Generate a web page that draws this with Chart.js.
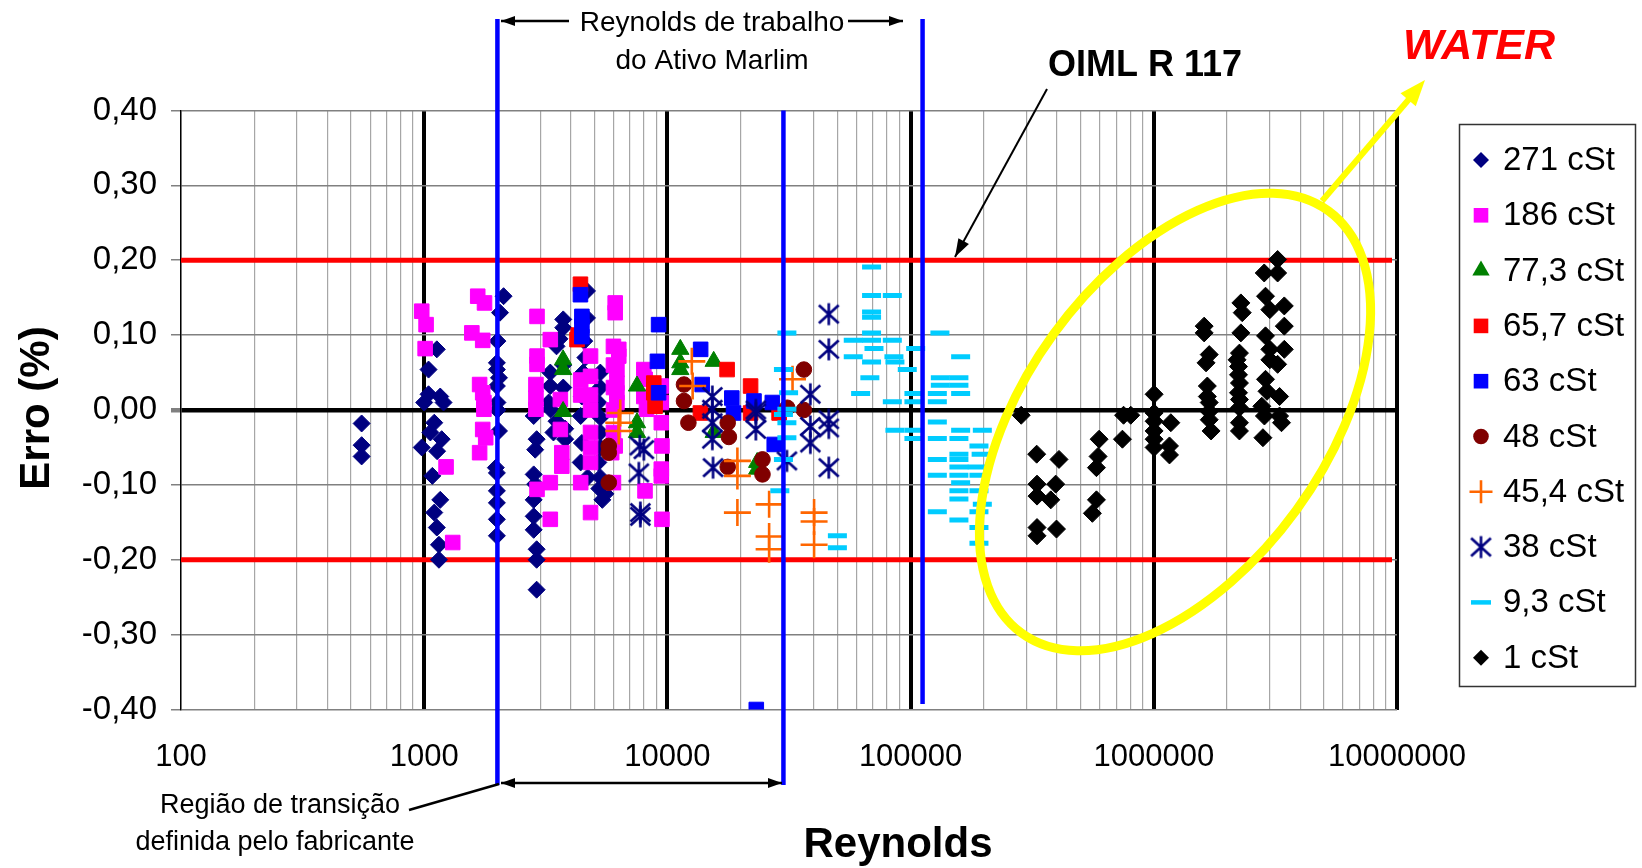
<!DOCTYPE html>
<html><head><meta charset="utf-8">
<script src="https://cdn.jsdelivr.net/npm/chart.js@4.4.1/dist/chart.umd.min.js"></script>
<style>html,body{margin:0;padding:0;background:#fff;}canvas{display:block;}</style>
</head><body>
<canvas id="c" width="1642" height="868"></canvas>
<script>
// ---------- DATA (Reynolds, Erro %) ----------
const s271 = [[553,-0.018],[553,-0.047],[553,-0.062],
 [1127,0.081],[1042,0.054],[1042,0.021],[1164,0.018],[1000,0.010],[1201,0.010],[1100,-0.017],[1060,-0.030],[1180,-0.039],[977,-0.050],[1130,-0.055],[1080,-0.088],[1164,-0.120],[1100,-0.137],[1127,-0.157],[1150,-0.180],[1150,-0.200],
 [2120,0.152],[2050,0.130],[2000,0.092],[1990,0.063],[1990,0.054],[2030,0.043],[1990,0.032],[2000,0.010],[2000,0.000],[2030,-0.028],[1970,-0.077],[1990,-0.084],[1990,-0.108],[1990,-0.124],[1990,-0.146],[1990,-0.168],
 [2820,-0.008],[2900,-0.039],[2860,-0.053],[2820,-0.086],[2860,-0.099],[2820,-0.120],[2820,-0.142],[2820,-0.160],[2900,-0.186],[2900,-0.200],[2900,-0.240],
 [3730,0.121],[3730,0.110],[3600,0.095],[3500,0.085],[3300,0.050],[3300,0.032],[3250,0.010],[3300,0.001],[3730,0.030],[3730,0.060],[3800,-0.025],[3800,-0.039],[3500,-0.015],[3400,-0.030],
 [4670,0.159],[4670,0.123],[4550,0.092],[4600,0.070],[4500,0.050],[4450,0.018],[4400,-0.008],[4450,-0.044],[4400,-0.070],[4700,-0.090],
 [5300,0.050],[5300,0.030],[5200,0.010],[5300,-0.010],[5300,-0.030],[5300,-0.050],[5200,-0.070],[5300,-0.090],[5250,-0.105],[5560,-0.112],[5400,-0.120]];
const s186 = [[977,0.132],[1018,0.114],[1009,0.082],[1230,-0.076],[1310,-0.177],[1660,0.152],[1770,0.143],[1570,0.103],[1740,0.093],[1690,0.034],[1740,0.023],[1760,0.010],[1760,0.001],[1740,-0.026],[1790,-0.037],[1690,-0.057],
 [2910,0.125],[3300,0.094],[2910,0.072],[2910,0.061],[2880,0.034],[2880,0.016],[2880,0.001],[3630,0.014],[3630,-0.026],[3680,-0.057],[3680,-0.075],[3300,-0.097],[2910,-0.106],[3300,-0.146],[4400,-0.097],[4830,-0.137],
 [4830,0.072],[4830,0.045],[4830,0.020],[4830,0.000],[4830,-0.030],[4830,-0.050],[4830,-0.070],[4400,0.040],[4400,0.020],
 [6100,0.143],[6100,0.130],[6000,0.085],[6000,0.060],[6000,0.030],[6000,0.000],[6000,-0.030],[6100,-0.048],[6000,-0.097],[5900,-0.057],
 [6310,0.081],[6310,0.072],[6200,0.054],[6200,0.036],[6200,0.023],[6200,0.010],
 [8000,0.054],[8100,0.041],[8000,0.018],[8200,0.001],[9440,0.032],[9440,0.010],[9440,-0.017],[9500,-0.048],[9440,-0.079],[9440,-0.088],[8090,-0.108],[9500,-0.146]];
const s773 = [[3725,0.067],[3725,0.054],[3725,-0.002],[7500,0.032],[7500,-0.017],[7500,-0.030],[11300,0.081],[11300,0.063],[11300,0.054],[15500,0.065],[15500,-0.030],[23400,-0.070],[23400,-0.079]];
const s657 = [[4390,0.168],[4250,0.094],[4300,0.100],[8790,0.036],[8790,0.023],[8900,0.005],[13670,-0.004],[17600,0.054],[21980,0.032],[21980,-0.004],[28800,-0.004]];
const s63 = [[4390,0.154],[4450,0.125],[4450,0.112],[4450,0.098],[9200,0.114],[9100,0.065],[9200,0.023],[13700,0.081],[13900,0.034],[18400,0.016],[18700,-0.004],[22700,0.012],[27000,0.010],[27500,-0.046],[23200,-0.400]];
const s48 = [[5740,-0.048],[5740,-0.057],[5740,-0.097],[11700,0.034],[11700,0.012],[12200,-0.017],[17700,-0.017],[17900,-0.036],[17700,-0.076],[24600,-0.066],[24600,-0.086],[36400,0.054],[36400,0.000],[31100,0.003]];
const s454 = [[6310,-0.017],[6400,-0.004],[6310,-0.028],[12600,0.065],[12700,0.032],[19400,-0.068],[19400,-0.088],[19400,-0.137],[26200,-0.126],[26200,-0.169],[26200,-0.186],[32700,0.041],[40100,-0.137],[40100,-0.149],[40100,-0.180]];
const s38 = [[8000,-0.053],[7700,-0.048],[7630,-0.084],[7740,-0.137],[7740,-0.142],[15300,0.018],[15300,0.001],[15300,-0.017],[15300,-0.039],[15400,-0.077],[23100,-0.004],[23100,-0.026],[23100,0.000],[31000,-0.068],[38700,0.021],[38700,-0.022],[38700,-0.044],[46100,0.128],[46100,0.081],[46100,-0.013],[46100,-0.024],[46100,-0.077]];
const s93 = [[31000,0.103],[30000,0.054],[31500,0.023],[31000,0.001],[30000,-0.006],[31000,-0.017],[31000,-0.037],[30000,-0.066],[29000,-0.108],[50000,-0.168],[50000,-0.184],
 [69100,0.191],[69100,0.153],[84100,0.153],[69100,0.131],[69100,0.124],[69100,0.103],[58100,0.093],[69100,0.093],[84100,0.093],[132000,0.103],[70700,0.082],[58100,0.071],[69100,0.064],[85400,0.071],[86200,0.064],[104900,0.082],[160600,0.071],[68000,0.043],[96900,0.054],[132500,0.043],[158000,0.043],[132500,0.033],[158000,0.033],[62300,0.022],[103200,0.022],[128800,0.022],[160600,0.022],[84100,0.011],[103200,0.011],[128800,0.011],[128800,-0.016],[86200,-0.027],[103200,-0.027],[160600,-0.027],[197200,-0.027],[103200,-0.038],[128800,-0.038],[158000,-0.038],[191000,-0.048],[158000,-0.059],[195000,-0.059],[128800,-0.066],[158000,-0.066],[158000,-0.076],[188000,-0.076],[128800,-0.087],[158000,-0.087],[191000,-0.087],[160600,-0.097],[158000,-0.108],[191000,-0.108],[158000,-0.119],[197200,-0.126],[128800,-0.136],[191000,-0.136],[158000,-0.147],[191000,-0.157],[191000,-0.178]];
const s1 = [[285000,-0.007],[330000,-0.059],[407600,-0.066],[331000,-0.099],[395000,-0.099],[331000,-0.115],[377000,-0.120],[331000,-0.157],[331000,-0.168],[398000,-0.159],
 [596000,-0.039],[590000,-0.062],[581000,-0.077],[581000,-0.120],[559000,-0.138],[743000,-0.039],[751000,-0.007],[804000,-0.007],
 [1003000,0.021],[1003000,-0.004],[1003000,-0.015],[1003000,-0.028],[1003000,-0.039],[1003000,-0.050],[1175000,-0.017],[1160000,-0.048],[1160000,-0.060],
 [1611000,0.112],[1611000,0.103],[1690000,0.074],[1640000,0.063],[1660000,0.032],[1660000,0.018],[1690000,0.010],[1690000,-0.002],[1690000,-0.013],[1720000,-0.028],
 [2280000,0.143],[2310000,0.130],[2280000,0.103],[2250000,0.076],[2200000,0.067],[2230000,0.058],[2230000,0.047],[2250000,0.036],[2230000,0.023],[2250000,0.014],[2250000,0.003],[2250000,-0.017],[2250000,-0.028],
 [3230000,0.201],[2845000,0.183],[3230000,0.183],[2880000,0.152],[3440000,0.139],[3000000,0.134],[3440000,0.112],[2880000,0.099],[3440000,0.081],[3000000,0.081],[3000000,0.067],[3230000,0.061],[2880000,0.041],[2920000,0.025],[3290000,0.018],[2780000,0.005],[3290000,-0.008],[2810000,-0.037],[3350000,-0.017],[2850000,-0.008]];

const seriesLabels = ['271 cSt','186 cSt','77,3 cSt','65,7 cSt','63 cSt','48 cSt','45,4 cSt','38 cSt','9,3 cSt','1 cSt'];
const xTickLabels = ['100','1000','10000','100000','1000000','10000000'];
const yTickValues = [-0.4,-0.3,-0.2,-0.1,0,0.1,0.2,0.3,0.4];
const yTickLabels = ['-0,40','-0,30','-0,20','-0,10','0,00','0,10','0,20','0,30','0,40'];
const limitLines = [0.2,-0.2];               // OIML R 117
const regionLines = [2000, 30000, 112000];     // vertical blue lines

// ---------- STYLE ----------
const FONT = '"Liberation Sans", Arial, Helvetica, sans-serif';
function makeAsterisk(size, lw, color){
  const c=document.createElement('canvas'); c.width=size; c.height=size;
  const g=c.getContext('2d'); g.strokeStyle=color; g.lineWidth=lw;
  const m=size/2, r=size/2-1.5, dx=r*0.9, dy=r*0.82;
  g.beginPath(); g.moveTo(m,m-r); g.lineTo(m,m+r);
  g.moveTo(m-dx,m-dy); g.lineTo(m+dx,m+dy); g.moveTo(m-dx,m+dy); g.lineTo(m+dx,m-dy); g.stroke();
  return c;
}
const asterisk = makeAsterisk(25, 2.6, '#000080');
const styles = [
  {d:s271, ps:'rectRot', fill:'#000080', stroke:'#000080', r:8.5, bw:1},
  {d:s186, ps:'rect', fill:'#FF00FF', stroke:'#FF00FF', r:10.3, bw:1},
  {d:s773, ps:'triangle', fill:'#008000', stroke:'#008000', r:10, bw:1},
  {d:s657, ps:'rect', fill:'#FF0000', stroke:'#FF0000', r:10.3, bw:1},
  {d:s63, ps:'rect', fill:'#0000FF', stroke:'#0000FF', r:10.3, bw:1},
  {d:s48, ps:'circle', fill:'#800000', stroke:'#800000', r:7.8, bw:1},
  {d:s454, ps:'cross', fill:'#FF6600', stroke:'#FF6600', r:13.5, bw:2.6},
  {d:s38, ps:asterisk, fill:'#000080', stroke:'#000080', r:12, bw:1},
  {d:s93, ps:'line', fill:'#00CCFF', stroke:'#00CCFF', r:9.5, bw:5},
  {d:s1, ps:'rectRot', fill:'#000000', stroke:'#000000', r:9, bw:1}
];
const datasets = styles.map((s,i)=>({
  label: seriesLabels[i],
  data: s.d.map(p=>({x:p[0], y:p[1]})),
  pointStyle: s.ps, pointRadius: s.r, pointHoverRadius: s.r,
  pointBackgroundColor: s.fill, pointBorderColor: s.stroke, pointBorderWidth: s.bw,
  showLine:false, order: styles.length - i
}));

const xDecades = xTickLabels.map(t=>Number(t));
const xTickValues = [];
for (let d=0; d<xDecades.length; d++){
  for (let m=1; m<=9; m++){ if (d===xDecades.length-1 && m>1) break; xTickValues.push(Math.round(xDecades[d]*m)); }
}
const isDecade = v => xDecades.indexOf(v) >= 0;

function arrowHead(ctx,x1,y1,x2,y2,len,half){
  const a=Math.atan2(y2-y1,x2-x1), c=Math.cos(a), s=Math.sin(a);
  ctx.beginPath(); ctx.moveTo(x2,y2);
  ctx.lineTo(x2-len*c+half*s, y2-len*s-half*c);
  ctx.lineTo(x2-len*c-half*s, y2-len*s+half*c);
  ctx.closePath(); ctx.fill();
}
function arrow(ctx,x1,y1,x2,y2,lw,color,len,half,both){
  ctx.save(); ctx.strokeStyle=color; ctx.fillStyle=color; ctx.lineWidth=lw;
  ctx.beginPath(); ctx.moveTo(x1,y1); ctx.lineTo(x2,y2); ctx.stroke();
  arrowHead(ctx,x1,y1,x2,y2,len,half);
  if (both) arrowHead(ctx,x2,y2,x1,y1,len,half);
  ctx.restore();
}
function legendMarker(ctx, s, x, y){
  ctx.save(); ctx.fillStyle=s.fill; ctx.strokeStyle=s.stroke; ctx.lineWidth=s.bw;
  ctx.beginPath();
  if (s.ps==='rectRot'){ const r=8; ctx.moveTo(x-r,y); ctx.lineTo(x,y-r); ctx.lineTo(x+r,y); ctx.lineTo(x,y+r); ctx.closePath(); ctx.fill(); }
  else if (s.ps==='rect'){ const h=7.3; ctx.rect(x-h,y-h,2*h,2*h); ctx.fill(); }
  else if (s.ps==='triangle'){ const r=10; ctx.moveTo(x,y-r); ctx.lineTo(x+r*0.866,y+r*0.5); ctx.lineTo(x-r*0.866,y+r*0.5); ctx.closePath(); ctx.fill(); }
  else if (s.ps==='circle'){ ctx.arc(x,y,7.8,0,Math.PI*2); ctx.fill(); }
  else if (s.ps==='cross'){ const r=11.5; ctx.moveTo(x-r,y); ctx.lineTo(x+r,y); ctx.moveTo(x,y-r); ctx.lineTo(x,y+r); ctx.stroke(); }
  else if (s.ps==='line'){ ctx.lineWidth=4.5; ctx.moveTo(x-10,y); ctx.lineTo(x+10,y); ctx.stroke(); }
  else { ctx.drawImage(s.ps, x-s.ps.width/2, y-s.ps.height/2); }
  ctx.restore();
}

const annot = {
  id:'annot',
  beforeDatasetsDraw(chart){
    const {ctx, chartArea:a, scales:{y}} = chart;
    ctx.save(); ctx.strokeStyle='#FF0000'; ctx.lineWidth=5;
    limitLines.forEach(v=>{ const py=y.getPixelForValue(v); ctx.beginPath(); ctx.moveTo(a.left,py); ctx.lineTo(a.right-5,py); ctx.stroke(); });
    ctx.restore();
  },
  afterDatasetsDraw(chart){
    const {ctx, chartArea:a, scales:{x}} = chart;
    ctx.save();
    const bx = regionLines.map(v=>x.getPixelForValue(v));
    ctx.strokeStyle='#0000FF'; ctx.lineWidth=4.5;
    [[bx[0],19,785],[bx[1],a.top,785],[bx[2],19,704]].forEach(l=>{ctx.beginPath();ctx.moveTo(l[0],l[1]);ctx.lineTo(l[0],l[2]);ctx.stroke();});
    ctx.strokeStyle='#FFFF00'; ctx.lineWidth=9;
    ctx.beginPath(); ctx.ellipse(1175,422,261,150,-54*Math.PI/180,0,Math.PI*2); ctx.stroke();
    ctx.lineWidth=6; ctx.beginPath(); ctx.moveTo(1322,201); ctx.lineTo(1410,98); ctx.stroke();
    ctx.fillStyle='#FFFF00'; arrowHead(ctx,1322,201,1425,80,26,10);
    arrow(ctx,1047,89,955,257,2,'#000',18,6,false);
    arrow(ctx,569,21,501,21,2.5,'#000',14,5,false);
    arrow(ctx,848,21,903,21,2.5,'#000',14,5,false);
    arrow(ctx,501,783,782,783,2.5,'#000',14,5,true);
    ctx.strokeStyle='#000'; ctx.lineWidth=2.5; ctx.beginPath(); ctx.moveTo(409,810); ctx.lineTo(499,784); ctx.stroke();
    ctx.fillStyle='#000'; ctx.textAlign='center'; ctx.textBaseline='middle';
    ctx.font='28px '+FONT;
    ctx.fillText('Reynolds de trabalho',712,23);
    ctx.fillText('do Ativo Marlim',712,61);
    ctx.font='27px '+FONT;
    ctx.fillText('Região de transição',280,806);
    ctx.fillText('definida pelo fabricante',275,843);
    ctx.font='bold 36px '+FONT;
    ctx.fillText('OIML R 117',1145,66);
    ctx.fillStyle='#FF0000'; ctx.font='italic bold 43px '+FONT;
    ctx.fillText('WATER',1479,47);
    ctx.fillStyle='#000'; ctx.font='bold 42px '+FONT;
    ctx.fillText('Reynolds',898,845);
    ctx.save(); ctx.translate(37,408); ctx.rotate(-Math.PI/2); ctx.fillText('Erro (%)',0,0); ctx.restore();
    ctx.strokeStyle='#333'; ctx.lineWidth=1.5; ctx.strokeRect(1459.5,124.5,176,562);
    ctx.font='33px '+FONT; ctx.textAlign='left'; ctx.fillStyle='#000';
    styles.forEach((s,i)=>{ const yy=160+i*55.3; legendMarker(ctx,s,1481,yy); ctx.fillStyle='#000'; ctx.fillText(seriesLabels[i],1503,yy+1); });
    ctx.restore();
  }
};

new Chart(document.getElementById('c'), {
  type:'scatter',
  data:{datasets},
  plugins:[annot],
  options:{
    responsive:false, animation:false, devicePixelRatio:1,
    layout:{padding:{top:110.5,right:245,bottom:0,left:0}},
    plugins:{legend:{display:false}, tooltip:{enabled:false}},
    scales:{
      x:{type:'logarithmic', min:100, max:1e7, position:'bottom',
        afterBuildTicks(s){ s.ticks = xTickValues.map(v=>({value:v})); },
        afterFit(s){ s.height = 158.5; },
        ticks:{autoSkip:false, maxRotation:0, minRotation:0, padding:29, color:'#000', font:{size:31, family:FONT},
          callback(v){ const i=xDecades.indexOf(Math.round(v)); return i>=0 ? xTickLabels[i] : ''; }},
        grid:{drawTicks:false,
          color(c){ const v=Math.round(c.tick.value); return (isDecade(v) && v!==100) ? '#000' : '#a6a6a6'; },
          lineWidth(c){ const v=Math.round(c.tick.value); return (isDecade(v) && v!==100) ? 4 : 1.2; }},
        border:{display:false}
      },
      y:{min:-0.4, max:0.4,
        afterBuildTicks(s){ s.ticks = yTickValues.map(v=>({value:v})); },
        afterFit(s){ s.width = 181; },
        ticks:{autoSkip:false, padding:14, color:'#000', font:{size:33, family:FONT},
          callback(v,i){ return yTickLabels[i]; }},
        grid:{tickLength:10, tickColor:'#808080',
          color(c){ return Math.abs(c.tick.value)<1e-9 ? '#000' : '#808080'; },
          lineWidth(c){ return Math.abs(c.tick.value)<1e-9 ? 4.5 : 1.5; }},
        border:{color:'#000', width:1.5}
      }
    }
  }
});
</script>
</body></html>
